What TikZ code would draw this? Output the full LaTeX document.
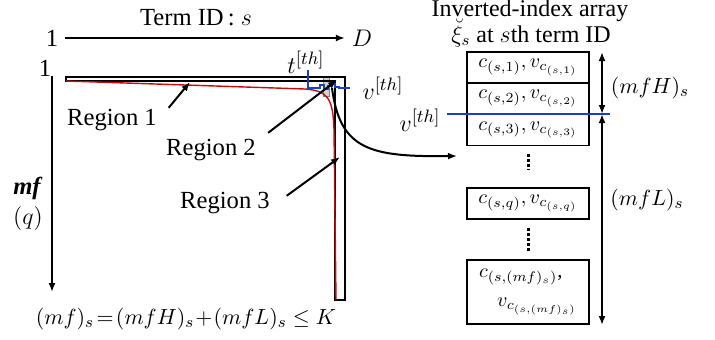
\documentclass[tikz,border=0pt]{standalone}
\usepackage{fontspec}
\setmainfont{Liberation Serif}
\usetikzlibrary{arrows.meta}
\definecolor{thblue}{RGB}{25,65,200}
\definecolor{curvered}{RGB}{200,10,10}
\begin{document}
\begin{tikzpicture}[x=0.5pt,y=-0.5pt,
  font=\fontsize{12.3}{14}\selectfont,
  arr/.style={-{Latex[length=4.5pt,width=3.5pt]}, line width=1pt},
  dbl/.style={{Latex[length=4.5pt,width=3.5pt]}-{Latex[length=4.5pt,width=3.5pt]}, line width=1pt},
  cell/.style={draw, line width=0.6pt, minimum width=61pt, minimum height=15.5pt, inner sep=0pt,
    font=\fontsize{10.2}{12}\selectfont},
  lab/.style={inner sep=0pt},
  eqn/.style={font=\fontsize{10.9}{13}\selectfont},
  thr/.style={thblue, line width=0.7pt},
  dots/.style={line width=1.5pt, dash pattern=on 1.5pt off 1pt}]
\useasboundingbox (0,0) rectangle (715,339);

% term axis and frequency axis
\node (termid) at (196,18) {Term ID\,: $s$};
\node (sone) at (52,38) {1};
\node (sD) at (362,38) {$D$};
\draw[arr] (sone) -- (sD);
\node (qone) at (45,68) {1};
\coordinate (qtop) at (52,76);
\coordinate (qbot) at (52,292);
\draw[arr] (qtop) -- (qbot);
\node[align=center] (mflab) at (28,204) {\textbf{\textit{mf}}\\[1pt]$(q)$};

% matrix outline and curve
\filldraw[fill=gray!35, draw=gray, line width=0.5pt] (323,77) rectangle (329,96);
\draw[line width=0.6pt] (66,77) -- (345,77) -- (345,300) -- (335,300) -- (335,81) -- (66,81) -- cycle;
\draw[curvered, line width=0.7pt] (66,81) -- (305,89) .. controls (328,91) and (333,98) .. (334,130) -- (336,300);

% thresholds
\node (tth) at (306,62) {$t^{[th]}$};
\node (vth) at (383,88) {$v^{[th]}$};
\draw[thr] (308,70) -- (308,88) -- (320,88) -- (320,85) -- (324,85) -- (324,89) -- (328,89) -- (328,86) -- (331,86) -- (331,84) -- (335,84) -- (335,87) -- (339,87) -- (339,88) -- (350,88);

% regions
\node[lab] (reg1) at (112,120) {Region 1};
\node[lab] (reg2) at (211,150) {Region 2};
\node[lab] (reg3) at (225,203) {Region 3};
\coordinate (reg1tip) at (190,82);
\coordinate (reg2tip) at (337,80);
\coordinate (reg3tip) at (340,157);
\draw[arr] ([xshift=5.75pt,yshift=0.5pt]reg1.north east) -- (reg1tip);
\draw[arr] ([xshift=6pt,yshift=3pt]reg2.north east) -- (reg2tip);
\draw[arr] ([xshift=8.25pt,yshift=-2pt]reg3.north east) -- (reg3tip);

% inverted-index array
\node[lab, anchor=base, font=\fontsize{12}{13}\selectfont] (title) at (530,16) {Inverted-index array};
\node[lab, anchor=base, font=\fontsize{12}{13}\selectfont] (title2) at (531,42) {$\breve{\xi}_s$ at $s$th term ID};
\node[cell] (row1) at (528,67.5) {$c_{(s,1)}, v_{c_{(s,1)}}$};
\node[cell] (row2) at (528,98.5) {$c_{(s,2)}, v_{c_{(s,2)}}$};
\node[cell] (row3) at (528,130) {$c_{(s,3)}, v_{c_{(s,3)}}$};
\node[cell] (rowq) at (528,203.5) {$c_{(s,q)}, v_{c_{(s,q)}}$};
\node[cell, minimum height=32pt, align=left] (rowm) at (528,292) {$c_{(s,(mf)_s)}$,\\[2.5pt]\hspace{9pt}$v_{c_{(s,(mf)_s)}}$};
\draw[dots] ([yshift=-3.75pt]row3.south) -- ([yshift=9pt]rowq.north);
\draw[dots] ([yshift=-4pt]rowq.south) -- ([yshift=3.5pt]rowm.north);

\coordinate (curvestart) at (332,88);
\coordinate (curveend) at (457,156);
\draw[arr] (curvestart) .. controls (340,150) and (370,157) .. (curveend);

\node (vth2) at (420,120) {$v^{[th]}$};
\coordinate (blueleft) at (447,114);
\coordinate (blueright) at (610,114);
\draw[thr] (blueleft) -- (blueright);

\coordinate (hTop) at (602,52);
\coordinate (hMid) at (602,114);
\coordinate (hBot) at (602,325);
\draw[dbl] (hTop) -- (hMid);
\draw[dbl] (hMid) -- (hBot);
\node[eqn] (mfH) at (650,88) {$(mfH)_s$};
\node[eqn] (mfL) at (647,200) {$(mfL)_s$};

\node[eqn] (sumlab) at (186,319) {$(mf)_s\!=\!(mfH)_s\!+\!(mfL)_s\le K$};
\end{tikzpicture}
\end{document}
